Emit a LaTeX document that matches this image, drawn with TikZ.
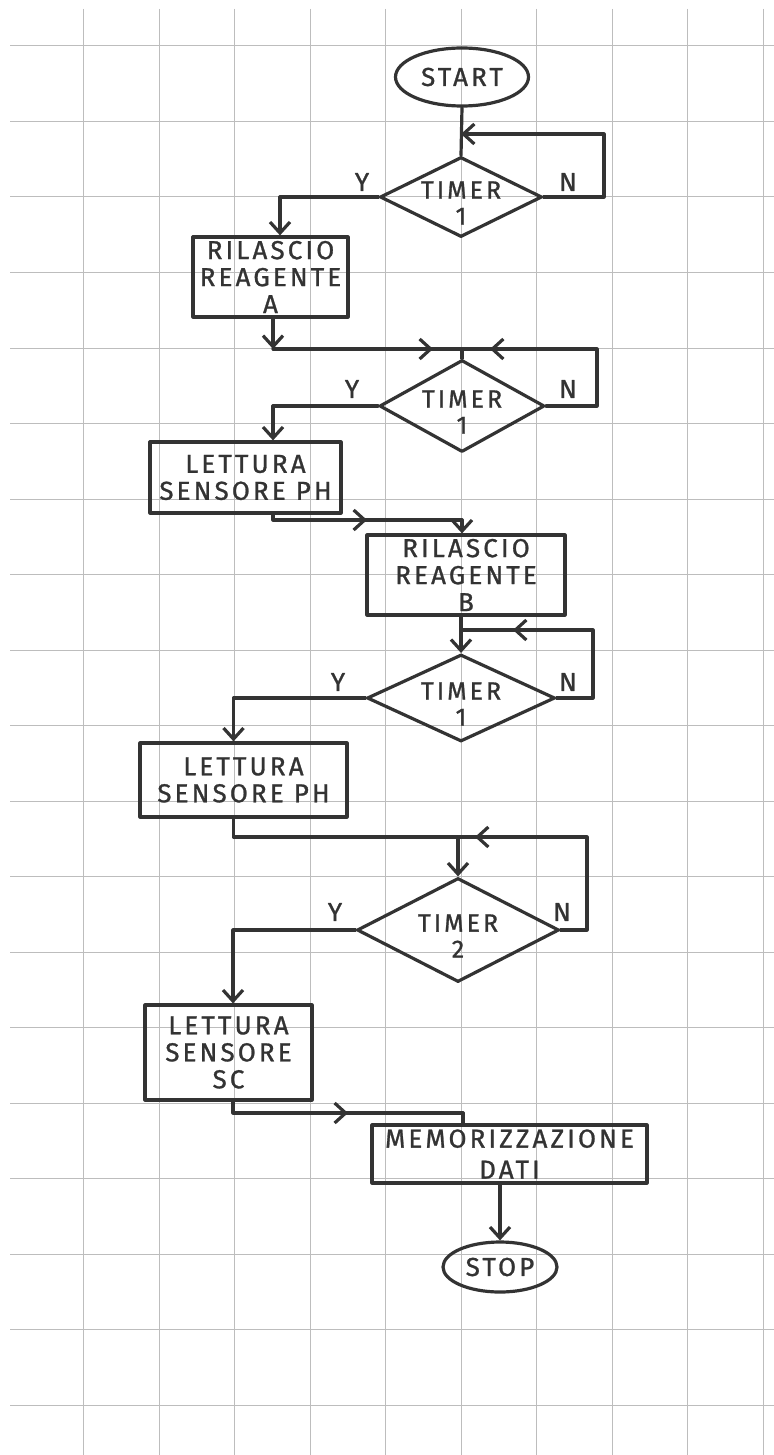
\documentclass[tikz,border=0pt]{standalone}
\usepackage{fontspec}
\setmainfont{Fira Sans}[LetterSpace=12.0,FakeBold=1.0]
\usetikzlibrary{shapes.geometric,arrows.meta,decorations.markings,calc}
\definecolor{inkc}{HTML}{333333}
\definecolor{gridc}{HTML}{BDBDBD}
\begin{document}
\begin{tikzpicture}[x=0.5pt,y=-0.5pt,
  ink/.style={draw=inkc,color=inkc,line width=1.6pt,line cap=round,line join=round},
  tipV/.tip={Straight Barb[length=5.5pt,width=10pt]},
  arr/.style={ink,-tipV},
  midarr/.style={ink,postaction={decorate},decoration={markings,mark=at position #1 with {\arrow{tipV}}}},
  txt/.style={font=\fontsize{13}{13.5}\selectfont,text=inkc,align=center},
  term/.style={ink,ellipse,inner sep=0pt,txt},
  dec/.style={ink,diamond,inner sep=0pt},
  proc/.style={ink,rectangle,inner sep=0pt,txt},
  dtext/.style={txt,font=\fontsize{12.5}{13}\selectfont,yshift=-3pt},
  lbl/.style={txt},
  gridline/.style={draw=gridc,line width=0.5pt}
]
\fill[white] (0,0) rectangle (774,1455);
\useasboundingbox (0,0) rectangle (774,1455);
% graph paper
\foreach \k in {0,...,9} \draw[gridline] ({83.5+75.5*\k},9) -- ({83.5+75.5*\k},1455);
\foreach \k in {0,...,18} \draw[gridline] (10,{46+75.5*\k}) -- (774,{46+75.5*\k});

% nodes
\node[term,minimum width=66.5pt,minimum height=29pt] (start) at (462,77) {START};
\node[dec,minimum width=81pt,minimum height=40pt,label={[dtext]center:TIMER\\1}] (d1) at (461,197) {};
\node[proc,minimum width=77.5pt,minimum height=40pt] (boxA) at (270.5,277) {RILASCIO\\REAGENTE\\A};
\node[dec,minimum width=82.5pt,minimum height=46pt,label={[dtext]center:TIMER\\1}] (d2) at (462,406) {};
\node[proc,minimum width=95.5pt,minimum height=35.5pt] (ph1) at (245.5,477.5) {LETTURA\\SENSORE PH};
\node[proc,minimum width=99pt,minimum height=40pt] (boxB) at (466,575) {RILASCIO\\REAGENTE\\B};
\node[dec,minimum width=94pt,minimum height=43.5pt,label={[dtext]center:TIMER\\1}] (d3) at (461,698) {};
\node[proc,minimum width=103.5pt,minimum height=37pt] (ph2) at (243.5,780) {LETTURA\\SENSORE PH};
\node[dec,minimum width=101pt,minimum height=52pt,label={[dtext]center:TIMER\\2}] (d4) at (458,930) {};
\node[proc,minimum width=83.5pt,minimum height=47.5pt] (sc) at (228.5,1052.5) {LETTURA\\SENSORE\\SC};
\node[proc,minimum width=137.5pt,minimum height=29pt,font=\fontsize{13}{15.5}\selectfont] (mem) at (509.5,1154) {MEMORIZZAZIONE\\DATI};
\node[term,minimum width=57pt,minimum height=25pt] (stop) at (500,1267) {STOP};

% branch labels
\node[lbl] (y1) at (362,182) {Y};
\node[lbl] (n1l) at (568,182) {N};
\node[lbl] (y2) at (352,389) {Y};
\node[lbl] (n2l) at (568,389) {N};
\node[lbl] (y3) at (338,682) {Y};
\node[lbl] (n3l) at (568,682) {N};
\node[lbl] (y4) at (335,912) {Y};
\node[lbl] (n4l) at (562,912) {N};

% connectors: decision 1
\draw[ink] (start.south) -- (d1.north);
\coordinate (n1) at (604,134);
\draw[arr] (d1.east) -| (n1) -- (n1 -| d1.north);
\draw[arr] (d1.west) -| ($(boxA.north)+(9.5,0)$);

% box A -> decision 2
\coordinate (j2) at (462,349);
\coordinate (a2) at ($(boxA.south)+(2.5,0)$);
\draw[arr] (a2) -- (a2 |- j2);
\draw[midarr=-14.5pt] (a2 |- j2) -- (j2);
\draw[ink] (j2) -- (d2.north);
\coordinate (n2) at (597,349);
\draw[midarr=-14pt] (d2.east) -| (n2) -- (j2);
\draw[arr] (d2.west) -| ($(ph1.north)+(27.5,0)$);

% ph1 -> box B
\coordinate (j3) at (462,520);
\coordinate (p1) at ($(ph1.south)+(27.5,0)$);
\draw[midarr=-47.5pt] (p1) |- (j3);
\draw[arr] (j3) -- (j3 |- boxB.north);

% box B -> decision 3
\draw[arr] (boxB.south -| d3.north) -- (d3.north);
\coordinate (n3) at (593,630);
\draw[midarr=-26pt] (d3.east) -| (n3) -- (n3 -| d3.north);
\draw[arr] (d3.west) -| ($(ph2.north)+(-10,0)$);

% ph2 -> decision 4
\coordinate (p2) at ($(ph2.south)+(-10,0)$);
\coordinate (n4) at (587,837);
\draw[arr] (p2) |- (n4 -| d4.north) -- (d4.north);
\draw[midarr=-8.5pt] (d4.east) -| (n4) -- (n4 -| d4.north);
\draw[arr] (d4.west) -| ($(sc.north)+(4.5,0)$);

% sc -> memorizzazione
\coordinate (p3) at ($(sc.south)+(4.5,0)$);
\coordinate (j6) at (463,1113);
\draw[midarr=-57.5pt] (p3) |- (j6);
\draw[ink] (j6) -- (j6 |- mem.north);

% memorizzazione -> stop
\draw[arr] (stop.north |- mem.south) -- (stop.north);
\end{tikzpicture}
\end{document}
